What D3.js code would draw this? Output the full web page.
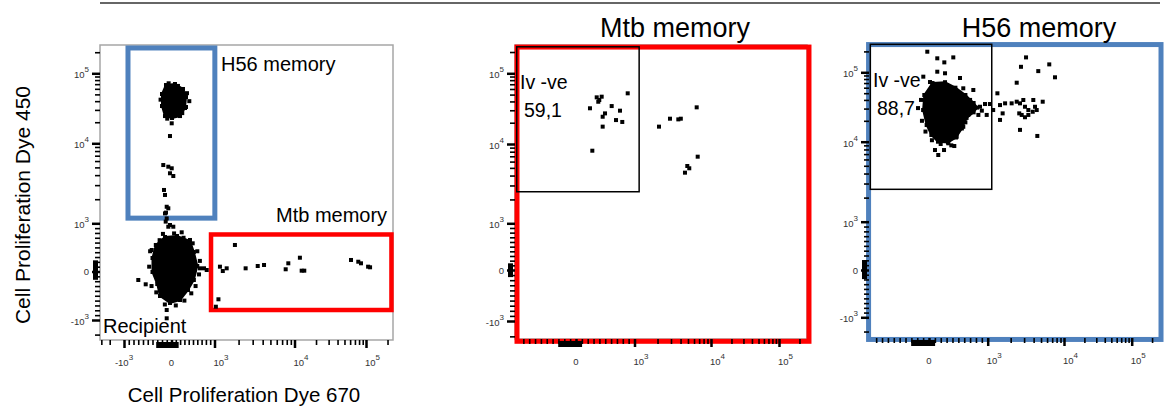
<!DOCTYPE html>
<html>
<head>
<meta charset="utf-8">
<script src="https://cdn.jsdelivr.net/npm/d3@7"></script>
<style>
  body { margin: 0; background: #fff; }
</style>
</head>
<body>
<div id="chart"></div>
<script>
// ---- data (fluorescence values) ----
const tickValues = [-1000, 0, 1000, 10000, 100000];
const tickBase = ["-10", "0", "10", "10", "10"];
const tickExp = ["3", "", "3", "4", "5"];

// panel 1 : all live cells
const p1H56Core = [[-116,68000],[81,70300],[267,59700],[337,45800],[314,31900],[198,24500],[12,23000],[-137,24500],[-200,34100],[-200,50600]];
const p1H56Events = [[414,40000],[337,33000],[5,19300],[-32,12700],[-173,5350],[-67,5100],[5,4870],[42,3900],[-32,4220],[-158,2610],[-137,2260],[-67,1540],[-116,1360],[-122,1050],[-67,929],[-101,1610],[-137,1330],[-101,1150],[-32,965],[42,929],[237,813],[-60,72000],[150,66000],[-230,42000],[360,52000],[250,27000],[-90,22500]];
const p1RecipCore = [[-137,716],[128,737],[430,633],[520,405],[600,114],[520,-175],[384,-381],[198,-588],[-32,-649],[-242,-505],[-300,-258],[-400,-10],[-400,280],[-330,550]];
const p1RecipEvents = [[-699,-175],[-543,-264],[-417,446],[430,654],[493,585],[663,66],[756,66],[819,31],[-101,-794],[-101,-965],[-32,-588],[-180,780],[60,790],[280,700],[600,420],[660,220],[640,-60],[560,-300],[460,-450],[300,-600],[100,-700],[-140,-680],[-320,-430],[-420,-300],[-470,100],[-450,420],[-250,650]];
const p1MtbEvents = [[1170,100],[1270,10],[1420,66],[1800,550],[2450,66],[3470,114],[4160,135],[7760,46],[8370,170],[11900,286],[12600,17],[13700,17],[61700,239],[78000,203],[85100,170],[107000,100],[114000,87],[1120,-573],[1040,-726]];
const p1RugY = [-130,-90,-50,-10,30,70,110,150,190];
const p1RugX = [-280,-230,-180,-130,-80,-30,20,70,120];

// panel 2 : Mtb memory gate
const p2Events = [[239,32000],[354,45700],[398,41900],[439,46700],[381,39600],[610,34400],[752,29600],[884,52100],[496,27100],[456,24300],[456,17600],[684,21800],[791,20500],[279,8230],[2090,17600],[2910,22800],[3740,22300],[4030,22800],[6500,33000],[6700,6920],[4900,5280],[5200,4940],[4570,4350]];
const p2RugY = [-100,-60,-20,20,60,100];
const p2RugX = [-270,-220,-170,-120,-70,-20,30,70];

// panel 3 : H56 memory gate
const p3Core = [[60,70000],[273,72000],[450,60000],[620,47100],[760,36100],[820,31000],[760,26500],[640,22000],[560,15500],[460,11500],[324,9800],[153,10000],[40,12500],[-40,17400],[-100,28600],[-80,47100]];
const p3Events = [[-29,198000],[141,159000],[261,139000],[414,164000],[141,102000],[273,96800],[-97,86500],[755,55600],[584,58800],[158,6820],[256,7870],[431,8830],[329,9550],[199,9360],[472,11800],[584,16400],[669,24300],[755,31900],[869,31900],[983,24300],[841,24300],[1070,34900],[1340,49800],[1450,33700],[1570,25600],[1450,20600],[1690,35700],[2060,35700],[2400,37700],[2650,35700],[2930,39900],[3080,31900],[3410,28600],[3960,39900],[4170,31900],[5260,37700],[2590,25600],[2790,24300],[3080,22500],[3410,24300],[3890,27000],[4390,28600],[2650,14800],[4470,12100],[2400,70800],[2730,120000],[3180,164000],[4600,104000],[6410,130000],[7620,84700],[954,34900],[1180,28600],[-187,30500],[528,82800],[102,7870],[17,72400],[-136,40000],[-120,20000],[-60,14000],[700,40000],[900,28000],[620,19000],[380,9000],[50,10500]];
const p3RugY = [-150,-110,-70,-30,10,50,90,130,165];
const p3RugX = [-270,-220,-170,-120,-70,-20,30,70];

// gates [[xMin, yMin], [xMax, yMax]]
const p1H56Gate = [[-916,1160],[1010,230000]];
const p1MtbGate = [[919,-794],[227000,768]];
const p2MtbGate = [[-1020,-2500],[276000,235000]];
const p2IvGate = [[-1030,2500],[1150,237000]];
const p3H56Gate = [[-1070,-2940],[271000,251000]];
const p3IvGate = [[-1000,2540],[1130,253000]];

// ---- layout ----
const FONT = "'Liberation Sans', Arial, sans-serif";
const RED = "#ff0000", BLUE = "#4f81bd";
const W = 1167, H = 410;

const panels = [
  { frame: [100, 45, 393, 340], xStops: [124, 171.5, 214.5, 294.5, 366], yStops: [320, 271.5, 223.3, 143.3, 73.3],
    xFirstLabel: 0, rugX: p1RugX, rugY: p1RugY },
  { frame: [515, 45, 807, 339], xStops: [517.5, 576, 634.5, 711, 779], yStops: [321, 270, 223.3, 144, 73.3],
    xFirstLabel: 1, rugX: p2RugX, rugY: p2RugY },
  { frame: [869, 44, 1160, 338], xStops: [870.3, 929, 987.7, 1064, 1131.7], yStops: [317.3, 270, 221.7, 141.7, 72.3],
    xFirstLabel: 1, rugX: p3RugX, rugY: p3RugY }
];

// biexponential-like display transform: linear within +-10^3, log beyond
function T(v) {
  const a = Math.abs(v);
  return a <= 1000 ? v / 1000 : Math.sign(v) * (1 + Math.log10(a / 1000));
}

const minorTicks = [];
for (let k = 1; k < 10; k++) minorTicks.push(k * 100, -k * 100);
for (const d of [1000, 10000, 100000]) for (let k = 2; k < 10; k++) minorTicks.push(k * d, -k * d);

const svg = d3.select("#chart").append("svg")
  .attr("width", W).attr("height", H)
  .style("font-family", FONT);

// top rule
svg.append("line").attr("x1", 100).attr("x2", 1160).attr("y1", 3).attr("y2", 3)
  .attr("stroke", "#333").attr("stroke-width", 1.6);

panels.forEach(P => {
  P.sx = d3.scaleLinear().domain([-1, 0, 1, 2, 3]).range(P.xStops);
  P.sy = d3.scaleLinear().domain([-1, 0, 1, 2, 3]).range(P.yStops);
  P.x = v => P.sx(T(v));
  P.y = v => P.sy(T(v));
  P.g = svg.append("g");
  const [x0, y0, x1, y1] = P.frame;
  P.g.append("rect").attr("x", x0).attr("y", y0).attr("width", x1 - x0).attr("height", y1 - y0)
    .attr("fill", "none").attr("stroke", "#a6a6a6").attr("stroke-width", 1.5);
});

function gate(P, g, color, width) {
  P.g.append("rect")
    .attr("x", P.x(g[0][0])).attr("y", P.y(g[1][1]))
    .attr("width", P.x(g[1][0]) - P.x(g[0][0]))
    .attr("height", P.y(g[0][1]) - P.y(g[1][1]))
    .attr("fill", "none").attr("stroke", color).attr("stroke-width", width);
}

function core(P, pts) {
  P.g.append("path").datum(pts)
    .attr("d", d3.line().x(d => P.x(d[0])).y(d => P.y(d[1])).curve(d3.curveLinearClosed))
    .attr("fill", "#000").attr("stroke", "#000").attr("stroke-width", 2);
  events(P, pts);
}

function events(P, pts) {
  P.g.append("g").selectAll("rect").data(pts).join("rect")
    .attr("x", d => P.x(d[0]) - 2).attr("y", d => P.y(d[1]) - 2)
    .attr("width", 4).attr("height", 4).attr("fill", "#000");
}

function label(txt, x, y, size, anchor) {
  svg.append("text").attr("x", x).attr("y", y).attr("font-size", size)
    .attr("text-anchor", anchor || "start").attr("fill", "#000").text(txt);
}

function axes(P) {
  const [x0, y0, x1, y1] = P.frame;
  const layer = svg.append("g");
  const inX = v => P.x(v) > x0 + 1 && P.x(v) < x1 - 1;
  const inY = v => P.y(v) > y0 + 1 && P.y(v) < y1 - 1;
  const majX = tickValues.map((v, i) => ({ v, i })).filter(d => d.i >= P.xFirstLabel);
  const majY = tickValues.map((v, i) => ({ v, i }));

  const drawAxis = (axis, tr, w) => {
    const a = layer.append("g").attr("transform", tr).call(axis);
    a.select(".domain").remove();
    a.selectAll(".tick line").attr("stroke", "#000").attr("stroke-width", w);
    a.selectAll(".tick text").remove();
  };
  drawAxis(d3.axisBottom(P.sx).tickValues(minorTicks.filter(inX).map(T)).tickSize(5),
    `translate(0,${y1})`, 1.6);
  drawAxis(d3.axisBottom(P.sx).tickValues(majX.map(d => T(d.v))).tickSize(8),
    `translate(0,${y1})`, 2.5);
  drawAxis(d3.axisLeft(P.sy).tickValues(minorTicks.filter(inY).map(T)).tickSize(5),
    `translate(${x0},0)`, 1.6);
  drawAxis(d3.axisLeft(P.sy).tickValues(majY.map(d => T(d.v))).tickSize(8),
    `translate(${x0},0)`, 2.5);

  const xl = layer.selectAll("text.xl").data(majX).join("text").attr("class", "xl")
    .attr("x", d => d.v > 0 ? P.x(d.v) - 1 : P.x(d.v))
    .attr("y", y1 + 26)
    .attr("text-anchor", d => d.v > 0 ? "start" : "middle")
    .attr("font-size", 9.5).attr("fill", "#333");
  xl.append("tspan").text(d => tickBase[d.i]);
  xl.append("tspan").attr("dy", -6).attr("font-size", 8).text(d => tickExp[d.i]);

  const yl = layer.selectAll("text.yl").data(majY).join("text").attr("class", "yl")
    .attr("x", x0 - 11)
    .attr("y", d => P.y(d.v) + (d.v === 0 ? 3.5 : 5))
    .attr("text-anchor", "end")
    .attr("font-size", 9.5).attr("fill", "#333");
  yl.append("tspan").text(d => tickBase[d.i]);
  yl.append("tspan").attr("dy", -6).attr("font-size", 8).text(d => tickExp[d.i]);

  // off-scale events piled at the axes
  layer.selectAll("rect.ry").data(P.rugY).join("rect").attr("class", "ry")
    .attr("x", x0 - 7).attr("y", d => P.y(d) - 2).attr("width", 5).attr("height", 4).attr("fill", "#000");
  layer.selectAll("rect.rx").data(P.rugX).join("rect").attr("class", "rx")
    .attr("y", y1 + 2).attr("x", d => P.x(d) - 2).attr("height", 6).attr("width", 4).attr("fill", "#000");
}

const [P1, P2, P3] = panels;

// panel 1
gate(P1, p1H56Gate, BLUE, 5);
gate(P1, p1MtbGate, RED, 4.5);
core(P1, p1H56Core);
core(P1, p1RecipCore);
events(P1, p1H56Events);
events(P1, p1RecipEvents);
events(P1, p1MtbEvents);
label("H56 memory", 221, 71, 20);
label("Mtb memory", 276, 222, 20);
label("Recipient", 103, 333, 20);
label("Cell Proliferation Dye 670", 244, 402, 20.5, "middle");
svg.append("text").attr("transform", "translate(30,205) rotate(-90)")
  .attr("text-anchor", "middle").attr("font-size", 21).text("Cell Proliferation Dye 450");

// panel 2
gate(P2, p2MtbGate, RED, 5);
gate(P2, p2IvGate, "#000", 1.5);
events(P2, p2Events);
label("Mtb memory", 675, 36.7, 27, "middle");
label("Iv -ve", 520, 89, 19.5);
label("59,1", 524, 116.7, 19.5);

// panel 3
gate(P3, p3H56Gate, BLUE, 5);
gate(P3, p3IvGate, "#000", 1.5);
core(P3, p3Core);
events(P3, p3Events);
label("H56 memory", 1039, 36.7, 27, "middle");
label("Iv -ve", 873, 87, 19.5);
label("88,7", 877, 115, 19.5);

panels.forEach(axes);
</script>
</body>
</html>
